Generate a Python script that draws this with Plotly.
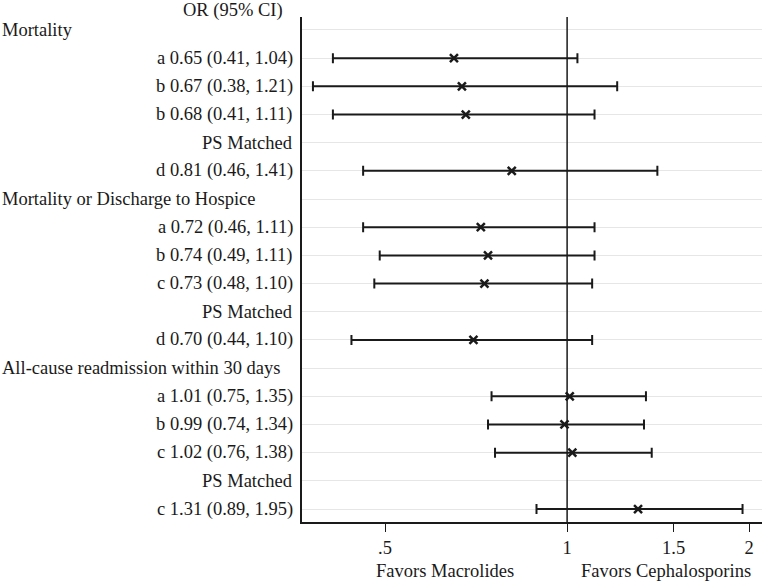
import plotly.graph_objects as go

# rows top to bottom; header rows have no estimate
labels = ["Mortality", "a 0.65 (0.41, 1.04)", "b 0.67 (0.38, 1.21)", "b 0.68 (0.41, 1.11)",
          "PS Matched", "d 0.81 (0.46, 1.41)",
          "Mortality or Discharge to Hospice", "a 0.72 (0.46, 1.11)", "b 0.74 (0.49, 1.11)",
          "c 0.73 (0.48, 1.10)", "PS Matched", "d 0.70 (0.44, 1.10)",
          "All-cause readmission within 30 days", "a 1.01 (0.75, 1.35)", "b 0.99 (0.74, 1.34)",
          "c 1.02 (0.76, 1.38)", "PS Matched", "c 1.31 (0.89, 1.95)"]
is_header = [True, False, False, False, False, False,
             True, False, False, False, False, False,
             True, False, False, False, False, False]
odds = [None, 0.65, 0.67, 0.68, None, 0.81,
        None, 0.72, 0.74, 0.73, None, 0.70,
        None, 1.01, 0.99, 1.02, None, 1.31]
ci_lo = [None, 0.41, 0.38, 0.41, None, 0.46,
         None, 0.46, 0.49, 0.48, None, 0.44,
         None, 0.75, 0.74, 0.76, None, 0.89]
ci_hi = [None, 1.04, 1.21, 1.11, None, 1.41,
         None, 1.11, 1.11, 1.10, None, 1.10,
         None, 1.35, 1.34, 1.38, None, 1.95]
tick_vals = [0.5, 1, 1.5, 2]
tick_text = [".5", "1", "1.5", "2"]

FONT = "Liberation Serif"
INK = "#1a1a1a"
FS = 18.5

rows = list(range(len(labels)))
xs, ys, plus, minus = [], [], [], []
for i, o in enumerate(odds):
    if o is None:
        continue
    xs.append(o)
    ys.append(i)
    plus.append(ci_hi[i] - o)
    minus.append(o - ci_lo[i])

fig = go.Figure()
fig.add_trace(go.Scatter(
    x=xs, y=ys, mode="markers",
    marker=dict(symbol="x-thin", size=8, color=INK, line=dict(width=2.5, color=INK)),
    error_x=dict(type="data", symmetric=False, array=plus, arrayminus=minus,
                 thickness=2, width=5, color=INK),
    showlegend=False, hoverinfo="skip",
))

fig.add_shape(type="line", xref="x", yref="paper", x0=1, x1=1, y0=0, y1=1,
              line=dict(color=INK, width=1.5))

annotations = []
for i, lab in enumerate(labels):
    if is_header[i]:
        annotations.append(dict(text=lab, xref="paper", yref="y", x=-0.6565, y=i,
                                xanchor="left", yanchor="middle", showarrow=False))
    else:
        annotations.append(dict(text=lab, xref="paper", yref="y", x=-0.015, y=i,
                                xanchor="right", yanchor="middle", showarrow=False))
annotations.append(dict(text="OR (95% CI)", xref="paper", yref="paper", x=-0.037, y=1.012,
                        xanchor="right", yanchor="middle", showarrow=False))
annotations.append(dict(text="Favors Macrolides", xref="paper", yref="paper", x=0.311, y=-0.098,
                        xanchor="center", yanchor="middle", showarrow=False))
annotations.append(dict(text="Favors Cephalosporins", xref="paper", yref="paper", x=0.791, y=-0.098,
                        xanchor="center", yanchor="middle", showarrow=False))

fig.update_layout(
    width=765, height=583,
    margin=dict(l=302, r=3, t=17, b=61),
    paper_bgcolor="white", plot_bgcolor="white",
    font=dict(family=FONT, size=FS, color=INK),
    annotations=annotations,
    xaxis=dict(type="log", range=[-0.4383, 0.3222], tickvals=tick_vals, ticktext=tick_text,
               showgrid=False, zeroline=False, showline=True, linecolor=INK, linewidth=1.5,
               ticks="outside", ticklen=8, tickcolor=INK, tickwidth=1.2, automargin=False,
               tickfont=dict(family=FONT, size=FS, color=INK)),
    yaxis=dict(range=[17.46, -0.46], tickvals=rows, showticklabels=False, automargin=False,
               showgrid=True, gridcolor="#e6e6e6", gridwidth=1, zeroline=False,
               showline=True, linecolor=INK, linewidth=1.5, ticks=""),
)

# drop the page's default body margin so the figure sits at the window's corner
fig.write_html("out.html", config={"displayModeBar": False},
               post_script="document.body.style.margin='0';")
